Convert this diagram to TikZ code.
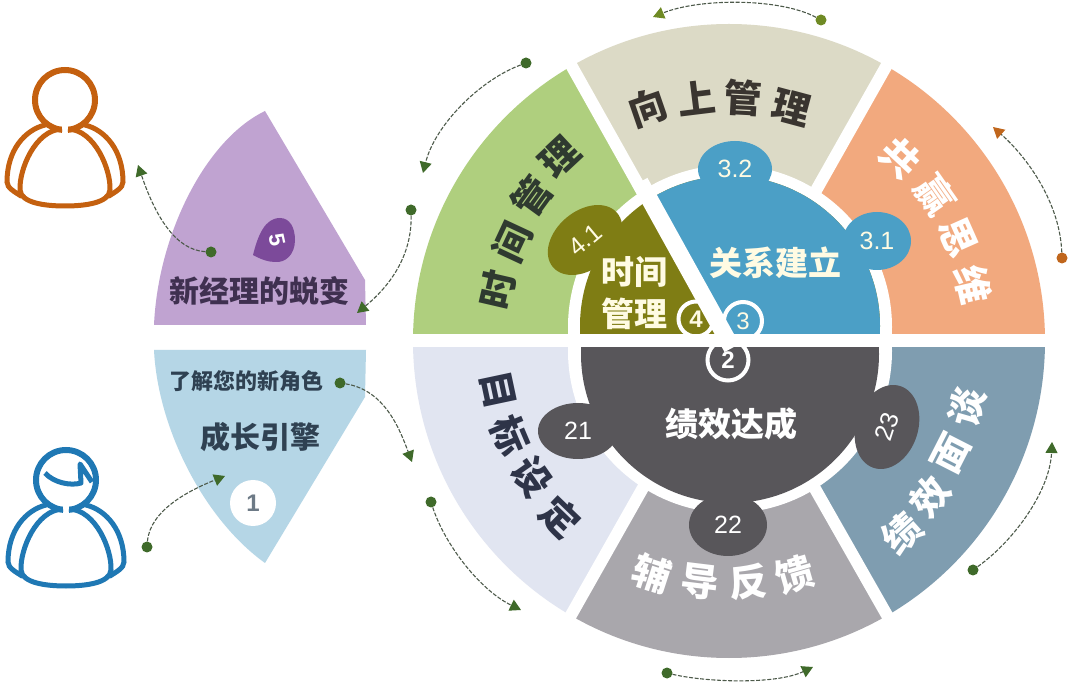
\documentclass[tikz,border=0pt]{standalone}
\usepackage{fontspec}
\setmainfont{Liberation Sans}
\newfontfamily\cjk{Noto Sans CJK SC}
\usetikzlibrary{shapes.geometric,arrows.meta}
\definecolor{cGreen}{HTML}{AFCF7E}
\definecolor{cBeige}{HTML}{DCDAC6}
\definecolor{cOrange}{HTML}{F2A97E}
\definecolor{cLav}{HTML}{E1E5F1}
\definecolor{cGray}{HTML}{A9A7AC}
\definecolor{cSteel}{HTML}{7F9DB0}
\definecolor{cOlive}{HTML}{7F7D14}
\definecolor{cBlue}{HTML}{4B9FC6}
\definecolor{cDark}{HTML}{58565A}
\definecolor{cPurple}{HTML}{C0A3D1}
\definecolor{cSky}{HTML}{B5D6E6}
\definecolor{cBadge}{HTML}{7C4A9A}
\definecolor{cPersonO}{HTML}{C4600F}
\definecolor{cPersonB}{HTML}{1F78B4}
\definecolor{cDotG}{HTML}{3F6A2A}
\definecolor{cDotO}{HTML}{6F8A24}
\definecolor{cDotR}{HTML}{C0661C}
\definecolor{cDash}{HTML}{4D5A4A}
\definecolor{cCream}{HTML}{FFFBE3}
\definecolor{cInk}{HTML}{2F3A30}
\definecolor{cInkB}{HTML}{3A3530}
\definecolor{cInkL}{HTML}{2E3448}
\definecolor{cInkP}{HTML}{3F3050}
\definecolor{cInkS}{HTML}{2F4152}
\newcommand\personshape{%
  \draw[line width=6] (0,0) circle[radius=30];
  \fill[white] (-3,18) rectangle (3,38);
  \draw[line width=5,line cap=butt] (-3,29) .. controls (-30,30) and (-46,70) .. (-45,90)
     .. controls (-44,103) and (-20,106) .. (0,106)
     .. controls (20,106) and (44,103) .. (45,90)
     .. controls (46,70) and (30,30) .. (3,29);
  \draw[line width=5,line cap=round] (-20,25) .. controls (-40,30) and (-58,50) .. (-58,82)
     .. controls (-58,88) and (-50,92) .. (-44,96);
  \draw[line width=5,line cap=round] (20,25) .. controls (40,30) and (58,50) .. (58,82)
     .. controls (58,88) and (50,92) .. (44,96);
}
\tikzset{
  x=1pt,y=-1pt,
  wheelchar/.style={font=\cjk\bfseries\fontsize{38}{38}\selectfont,inner sep=0pt},
  inkchar/.style={wheelchar,text=cInk},
  topchar/.style={wheelchar,text=cInkB},
  lavchar/.style={wheelchar,text=cInkL},
  whitechar/.style={wheelchar,text=white},
  hubtext/.style={font=\cjk\bfseries\fontsize{33}{33}\selectfont,inner sep=0pt},
  blob/.style={ellipse,inner sep=0pt,font=\fontsize{25}{25}\selectfont},
  ring/.style={circle,draw=white,line width=4pt,inner sep=0pt,minimum size=#1,font=\fontsize{24}{24}\selectfont},
  dotg/.style={circle,fill=cDotG,inner sep=0pt,minimum size=11pt},
  doto/.style={circle,fill=cDotO,inner sep=0pt,minimum size=11pt},
  dotr/.style={circle,fill=cDotR,inner sep=0pt,minimum size=11pt},
  flow/.style={draw=cDash,line width=1.1pt,dash pattern=on 4pt off 1.6pt,
    -{Triangle[length=11pt,width=12pt,color=#1]}},
  flow/.default=cDotG,
  gap/.style={draw=white,line width=12pt},
}
\begin{document}
\begin{tikzpicture}
\useasboundingbox (0,0) rectangle (1080,684);
\fill[white] (0,0) rectangle (1080,684);
% ---- outer wheel sectors
\begin{scope}\clip (727,341)--(540,11)--(300,11)--(300,341)--cycle;
  \fill[cGreen] (729,341) ellipse[x radius=316,y radius=317];\end{scope}
\begin{scope}\clip (727,341)--(540,11)--(917,11)--(731,341)--cycle;
  \fill[cBeige] (729,341) ellipse[x radius=316,y radius=317];\end{scope}
\begin{scope}\clip (731,341)--(917,11)--(1100,11)--(1100,341)--cycle;
  \fill[cOrange] (729,341) ellipse[x radius=316,y radius=317];\end{scope}
\begin{scope}\clip (727,341)--(540,669)--(300,669)--(300,341)--cycle;
  \fill[cLav] (729,341) ellipse[x radius=316,y radius=317];\end{scope}
\begin{scope}\clip (727,341)--(540,669)--(917,669)--(731,341)--cycle;
  \fill[cGray] (729,341) ellipse[x radius=316,y radius=317];\end{scope}
\begin{scope}\clip (731,341)--(917,669)--(1100,669)--(1100,341)--cycle;
  \fill[cSteel] (729,341) ellipse[x radius=316,y radius=317];\end{scope}
\draw[gap] (566,56)--(726,341);
\draw[gap] (892,56)--(731,341);
\draw[gap] (566,624)--(726,341);
\draw[gap] (892,624)--(731,341);
% ---- white ring
\begin{scope}\clip (500,0) rectangle (960,341);
  \fill[white] (730,327) circle[radius=162];\end{scope}
\begin{scope}\clip (500,341) rectangle (960,684);
  \fill[white] (730,351) circle[radius=162];\end{scope}
% ---- inner hubs
\begin{scope}\clip (500,0) rectangle (960,341);
  \fill[cOlive] (730,326) circle[radius=150];
  \begin{scope}\clip (640,170)--(960,170)--(960,341)--(730,341)--cycle;
    \fill[cBlue] (730,326) circle[radius=150];\end{scope}
\end{scope}
\begin{scope}\clip (500,341) rectangle (960,684);
  \fill[cDark] (730,354) circle[radius=149];\end{scope}
% ---- blobs
\node[blob,fill=cBlue,text=cCream,minimum width=74pt,minimum height=56pt] (b32) at (735,169) {3.2};
\node[blob,fill=cBlue,text=cCream,minimum width=68pt,minimum height=58pt] (b31) at (877,241) {3.1};
\node[blob,fill=cOlive,text=cCream,minimum width=84pt,minimum height=58pt,rotate=40] (b41) at (585,240) {4.1};
\node[blob,fill=cDark,text=white,minimum width=80pt,minimum height=56pt] (b21) at (578,431) {21};
\node[blob,fill=cDark,text=white,minimum width=78pt,minimum height=62pt] (b22) at (728,525) {22};
\node[blob,fill=cDark,text=white,minimum width=86pt,minimum height=62pt,rotate=72] (b23) at (887,427) {23};
% ---- rings
\node[ring=38pt,fill=cBlue,text=cCream] (r3) at (743,321) {3};
\node[ring=35pt,fill=cOlive,text=cCream] (r4) at (696,319) {\textbf{4}};
\node[ring=41pt,fill=cDark,text=white] (r2) at (728,360) {\textbf{2}};
% ---- gaps above rings
\draw[draw=white,line width=17pt] (640,182)--(732,348);
\fill[white] (400,334) rectangle (1060,347.5);
% ---- hub titles
\node[hubtext,text=cCream] (tA) at (775,263) {关系建立};
\node[hubtext,text=white] (tB) at (731,424) {绩效达成};
\node[hubtext,text=cCream] (tC) at (634,272) {时间};
\node[hubtext,text=cCream] (tD) at (634,314) {管理};
% ---- sector lettering
\node[inkchar,rotate=77] (g1) at (498,290) {时};
\node[inkchar,rotate=65] (g2) at (512,242) {间};
\node[inkchar,rotate=54] (g3) at (532,197) {管};
\node[inkchar,rotate=43] (g4) at (560,157) {理};
\node[topchar,rotate=19] (u1) at (648,108) {向};
\node[topchar,rotate=7] (u2) at (697,98) {上};
\node[topchar,rotate=-3] (u3) at (743,98) {管};
\node[topchar,rotate=-15] (u4) at (792,108) {理};
\node[whitechar,rotate=-43] (o1) at (900,158) {共};
\node[whitechar,rotate=-55] (o2) at (935,195) {赢};
\node[whitechar,rotate=-66] (o3) at (958,237) {思};
\node[whitechar,rotate=-77] (o4) at (973,285) {维};
\node[whitechar,rotate=42] (s1) at (902,533) {绩};
\node[whitechar,rotate=52] (s2) at (930,497) {效};
\node[whitechar,rotate=63] (s3) at (951,453) {面};
\node[whitechar,rotate=74] (s4) at (967,407) {谈};
\node[lavchar,rotate=-78] (l1) at (498,390) {目};
\node[lavchar,rotate=-67] (l2) at (510,435) {标};
\node[lavchar,rotate=-55] (l3) at (532,477) {设};
\node[lavchar,rotate=-44] (l4) at (560,517) {定};
\node[whitechar,rotate=-18] (f1) at (652,573) {辅};
\node[whitechar,rotate=-7] (f2) at (700,582) {导};
\node[whitechar,rotate=4] (f3) at (748,582) {反};
\node[whitechar,rotate=16] (f4) at (795,575) {馈};
% ---- left petals
\fill[cPurple] (265,111)--(365,280)--(366,325)--(154,325) .. controls (158,235) and (205,140) .. (265,111)--cycle;
\fill[cSky] (154,350)--(366,350)--(365,397)--(265,563) .. controls (205,520) and (158,430) .. (154,350)--cycle;
\fill[cBadge] (253,255) .. controls (258,235) and (265,218) .. (280,218)
  .. controls (290,218) and (295,228) .. (295,240)
  .. controls (295,255) and (285,263) .. (275,262)
  .. controls (268,262) and (260,259) .. (253,255)--cycle;
\node[font=\bfseries\fontsize{22}{22}\selectfont,text=white,rotate=-78,inner sep=0pt] (n5) at (277,240) {5};
\node[circle,fill=white,minimum size=46pt,inner sep=0pt,text=cInkS!70,font=\bfseries\fontsize{24}{24}\selectfont] (n1) at (253,503) {1};
\node[font=\cjk\bfseries\fontsize{30}{30}\selectfont,text=cInkP,inner sep=0pt] (p1) at (259,291) {新经理的蜕变};
\node[font=\cjk\bfseries\fontsize{22}{22}\selectfont,text=cInkS,inner sep=0pt] (p2) at (246,381) {了解您的新角色};
\node[font=\cjk\bfseries\fontsize{30}{30}\selectfont,text=cInkS,inner sep=0pt] (p3) at (260,437) {成长引擎};
% ---- persons
\begin{scope}[shift={(65,100)},color=cPersonO]\personshape\end{scope}
\begin{scope}[shift={(66,480)},color=cPersonB]\personshape
  \draw[line width=5,line join=round] (-21,-7) .. controls (-12,3) and (5,6) .. (15,3) -- (14,-16) -- (26,2);
\end{scope}
% ---- connectors
\node[dotg] (d1) at (147,547) {};
\node[dotg] (d2) at (340,383) {};
\node[dotg] (d3) at (211,252) {};
\node[dotg] (d4) at (411,210) {};
\node[dotg] (d5) at (526,63) {};
\node[doto] (d6) at (821,20) {};
\node[dotr] (d7) at (1062,258) {};
\node[dotg] (d8) at (973,570) {};
\node[dotg] (d9) at (667,673) {};
\node[dotg] (d10) at (431,502) {};
\coordinate (t1) at (225,476);
\coordinate (t2) at (412,462);
\coordinate (t3) at (138,165);
\coordinate (t4) at (357,313);
\coordinate (t5) at (423,173);
\coordinate (t6) at (653,17);
\coordinate (t7) at (993,127);
\coordinate (t8) at (1052,442);
\coordinate (t9) at (813,667);
\coordinate (t10) at (521,610);
\draw[flow] (d1) .. controls (150,510) and (190,490) .. (t1);
\draw[flow] (d2) .. controls (385,390) and (400,430) .. (t2);
\draw[flow] (d3) .. controls (175,250) and (155,215) .. (t3);
\draw[flow] (d4) .. controls (412,260) and (385,290) .. (t4);
\draw[flow] (d5) .. controls (480,80) and (435,125) .. (t5);
\draw[flow=cDotO] (d6) .. controls (780,-2) and (700,-2) .. (t6);
\draw[flow=cDotR] (d7) .. controls (1060,205) and (1030,160) .. (t7);
\draw[flow] (d8) .. controls (1015,540) and (1050,490) .. (t8);
\draw[flow] (d9) .. controls (705,682) and (775,685) .. (t9);
\draw[flow] (d10) .. controls (445,545) and (480,590) .. (t10);
\end{tikzpicture}
\end{document}
